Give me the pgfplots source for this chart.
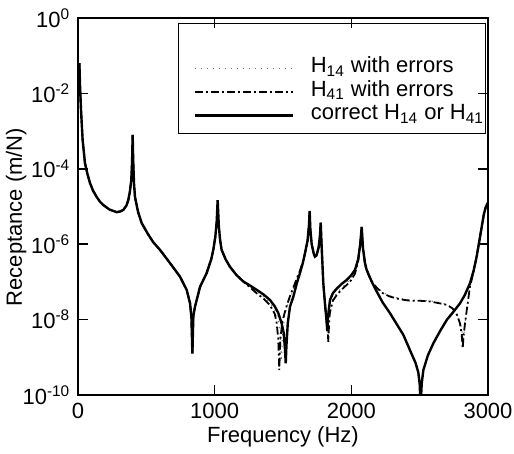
\documentclass[border=0pt]{standalone}
\usepackage{pgfplots}
\usepackage{pgfplotstable}
\pgfplotsset{compat=1.18}
\usepackage{fontspec}
\setmainfont{Liberation Sans}

% y column = log10 of receptance (m/N)
\pgfplotstableread{
f lg
10 -1.2
15 -1.8
22 -2.44
34 -3.24
51 -3.85
70 -4.15
88 -4.38
110 -4.58
137 -4.75
160 -4.87
185 -4.96
230 -5.08
283 -5.15
310 -5.13
332 -5.09
355 -4.97
368 -4.83
380 -4.6
390 -4.3
396 -3.8
400 -3.1
404 -3.8
410 -4.4
417 -4.75
440 -5.15
466 -5.44
510 -5.72
551 -5.95
600 -6.15
673 -6.5
746 -6.86
795 -7.21
820 -7.57
830 -7.95
837 -8.9
844 -7.9
856 -7.66
893 -7.13
941 -6.77
975 -6.4
990 -6.15
1005 -5.8
1015 -5.4
1022 -4.83
1030 -5.5
1040 -5.9
1051 -6.15
1080 -6.4
1112 -6.6
1160 -6.82
1210 -6.99
1260 -7.1
1307 -7.21
1360 -7.34
1405 -7.48
1440 -7.65
1466 -7.83
1490 -8.1
1505 -8.35
1515 -8.8
1520 -9.16
1525 -8.7
1535 -8.1
1551 -7.66
1576 -7.39
1600 -7.05
1624 -6.77
1645 -6.5
1661 -6.24
1680 -5.9
1690 -5.5
1695 -5.12
1700 -5.6
1710 -6.0
1725 -6.25
1734 -6.33
1745 -6.3
1760 -6.1
1770 -5.8
1776 -5.43
1782 -6.0
1795 -7.04
1810 -7.7
1818 -8.0
1824 -8.3
1830 -7.9
1844 -7.48
1865 -7.3
1893 -7.18
1930 -7.05
1966 -6.95
2000 -6.82
2027 -6.68
2050 -6.4
2065 -6.0
2076 -5.54
2085 -6.1
2100 -6.5
2112 -6.68
2150 -7.0
2185 -7.25
2230 -7.55
2283 -7.83
2332 -8.12
2380 -8.4
2429 -8.81
2470 -9.15
2490 -9.4
2500 -9.7
2507 -10.3
2515 -9.7
2527 -9.34
2560 -8.95
2600 -8.63
2650 -8.3
2698 -8.01
2750 -7.78
2795 -7.57
2830 -7.35
2868 -7.04
2895 -6.7
2917 -6.33
2935 -5.95
2954 -5.54
2970 -5.2
2985 -5.0
3000 -4.9
}\correct

\pgfplotstableread{
f lg
10 -1.2
15 -1.8
22 -2.44
34 -3.24
51 -3.85
70 -4.15
88 -4.38
110 -4.58
137 -4.75
160 -4.87
185 -4.96
230 -5.08
283 -5.15
310 -5.13
332 -5.09
355 -4.97
368 -4.83
380 -4.6
390 -4.3
396 -3.8
400 -3.1
404 -3.8
410 -4.4
417 -4.75
440 -5.15
466 -5.44
510 -5.72
551 -5.95
600 -6.15
673 -6.5
746 -6.86
795 -7.21
820 -7.57
830 -7.95
837 -8.9
844 -7.9
856 -7.66
893 -7.13
941 -6.77
975 -6.4
990 -6.15
1005 -5.8
1015 -5.4
1022 -4.83
1030 -5.5
1040 -5.9
1051 -6.15
1080 -6.4
1112 -6.6
1160 -6.82
1210 -6.99
1260 -7.15
1307 -7.3
1360 -7.45
1405 -7.62
1440 -7.85
1454 -8.1
1465 -8.5
1473 -9.34
1480 -8.55
1495 -8.05
1510 -7.85
1530 -7.6
1551 -7.38
1576 -7.15
1600 -6.92
1624 -6.7
1645 -6.48
1661 -6.24
1680 -5.9
1690 -5.5
1695 -5.12
1700 -5.6
1710 -6.0
1725 -6.25
1734 -6.33
1745 -6.3
1760 -6.1
1770 -5.8
1776 -5.43
1782 -6.0
1795 -7.04
1810 -7.7
1818 -8.0
1824 -8.2
1832 -8.59
1838 -8.0
1844 -7.8
1865 -7.5
1893 -7.35
1930 -7.2
1966 -7.08
2000 -6.95
2027 -6.78
2050 -6.45
2065 -6.02
2076 -5.54
2085 -6.1
2100 -6.55
2130 -6.85
2160 -7.05
2185 -7.15
2230 -7.3
2283 -7.39
2356 -7.46
2430 -7.5
2500 -7.5
2576 -7.52
2650 -7.57
2698 -7.61
2740 -7.7
2770 -7.85
2795 -8.1
2808 -8.4
2815 -8.76
2822 -8.4
2832 -8.1
2850 -7.6
2868 -7.13
2895 -6.72
2917 -6.33
2935 -5.95
2954 -5.54
2970 -5.2
2985 -5.0
3000 -4.9
}\hfouroneerr

\pgfplotstableread{
f lg
10 -1.2
15 -1.8
22 -2.44
34 -3.24
51 -3.85
70 -4.15
88 -4.38
110 -4.58
137 -4.75
160 -4.87
185 -4.96
230 -5.08
283 -5.15
310 -5.13
332 -5.09
355 -4.97
368 -4.83
380 -4.6
390 -4.3
396 -3.8
400 -3.1
404 -3.8
410 -4.4
417 -4.75
440 -5.15
466 -5.44
510 -5.72
551 -5.95
600 -6.15
673 -6.5
746 -6.86
795 -7.21
820 -7.57
830 -7.95
837 -8.9
844 -7.9
856 -7.66
893 -7.13
941 -6.77
975 -6.4
990 -6.15
1005 -5.8
1015 -5.4
1022 -4.83
1030 -5.5
1040 -5.9
1051 -6.15
1080 -6.4
1112 -6.6
1160 -6.82
1210 -6.99
1260 -7.12
1307 -7.25
1360 -7.4
1405 -7.55
1440 -7.75
1466 -8.0
1480 -8.4
1490 -9.1
1497 -8.4
1510 -7.95
1530 -7.65
1551 -7.45
1576 -7.2
1600 -6.95
1624 -6.72
1661 -6.24
1680 -5.9
1690 -5.5
1695 -5.12
1700 -5.6
1710 -6.0
1725 -6.25
1734 -6.33
1745 -6.3
1760 -6.1
1770 -5.8
1776 -5.43
1782 -6.0
1795 -7.04
1810 -7.7
1818 -8.0
1826 -8.45
1834 -7.95
1844 -7.7
1865 -7.45
1893 -7.3
1930 -7.15
1966 -7.03
2000 -6.9
2027 -6.75
2050 -6.43
2065 -6.0
2076 -5.54
2085 -6.1
2100 -6.52
2130 -6.82
2160 -7.02
2185 -7.13
2230 -7.28
2283 -7.37
2356 -7.44
2430 -7.48
2500 -7.49
2576 -7.5
2650 -7.55
2698 -7.6
2740 -7.68
2770 -7.82
2795 -8.05
2810 -8.3
2818 -8.65
2826 -8.3
2836 -8.0
2850 -7.6
2868 -7.13
2895 -6.72
2917 -6.33
2935 -5.95
2954 -5.54
2970 -5.2
2985 -5.0
3000 -4.9
}\hfourteenerr

\begin{document}
\fontsize{11}{13}\selectfont
\begin{tikzpicture}
\begin{axis}[
  scale only axis,
  width=205pt, height=188.5pt,
  xmin=0, xmax=3000, ymin=-10, ymax=0,
  xtick={0,1000,2000,3000},
  ytick={-10,-8,-6,-4,-2,0},
  yticklabels={10\textsuperscript{-10},10\textsuperscript{-8},10\textsuperscript{-6},10\textsuperscript{-4},10\textsuperscript{-2},10\textsuperscript{0}},
  scaled x ticks=false,
  /pgf/number format/assume math mode=true,
  /pgf/number format/1000 sep={},
  tick label style={font=\fontsize{11}{13}\selectfont},
  tick align=inside,
  major tick length=5pt,
  every tick/.style={black, line width=0.8pt},
  axis line style={line width=1pt},
  xlabel={Frequency (Hz)},
  ylabel={Receptance (m/N)},
  xlabel style={at={(axis description cs:0.5,-0.111)}, anchor=center},
  ylabel style={at={(axis description cs:-0.151,0.472)}, anchor=center},
  legend cell align=left,
  legend image code/.code={\draw[#1] (0pt,0pt) -- (49pt,0pt);},
  legend style={draw=none, fill=none, at={(axis description cs:0.2805,0.898)}, anchor=north west,
    inner sep=0pt, column sep=8.5pt, row sep=0pt,
    nodes={inner sep=0pt, text height=8pt, text depth=3.75pt, font=\fontsize{11}{13}\selectfont}},
]
\addplot[black!55, line width=0.5pt, dash pattern=on 0.6pt off 2.4pt] table[x=f, y=lg] {\hfourteenerr};
\addlegendentry{H\textsubscript{14} with errors}
\addplot[black, line width=0.9pt, dash pattern=on 4pt off 1.5pt on 1pt off 1.5pt] table[x=f, y=lg] {\hfouroneerr};
\addlegendentry{H\textsubscript{41} with errors}
\addplot[black, line width=1.2pt] table[x=f, y=lg] {\correct};
\addlegendentry{correct H\textsubscript{14} or H\textsubscript{41}}
\draw[line width=0.5pt] (axis description cs:0.2463,0.6923) rectangle (axis description cs:0.993,0.9867);
\end{axis}
\pgfresetboundingbox
\path[use as bounding box] (-39pt,-29.5pt) rectangle (218pt,197.5pt);
\end{tikzpicture}
\end{document}
